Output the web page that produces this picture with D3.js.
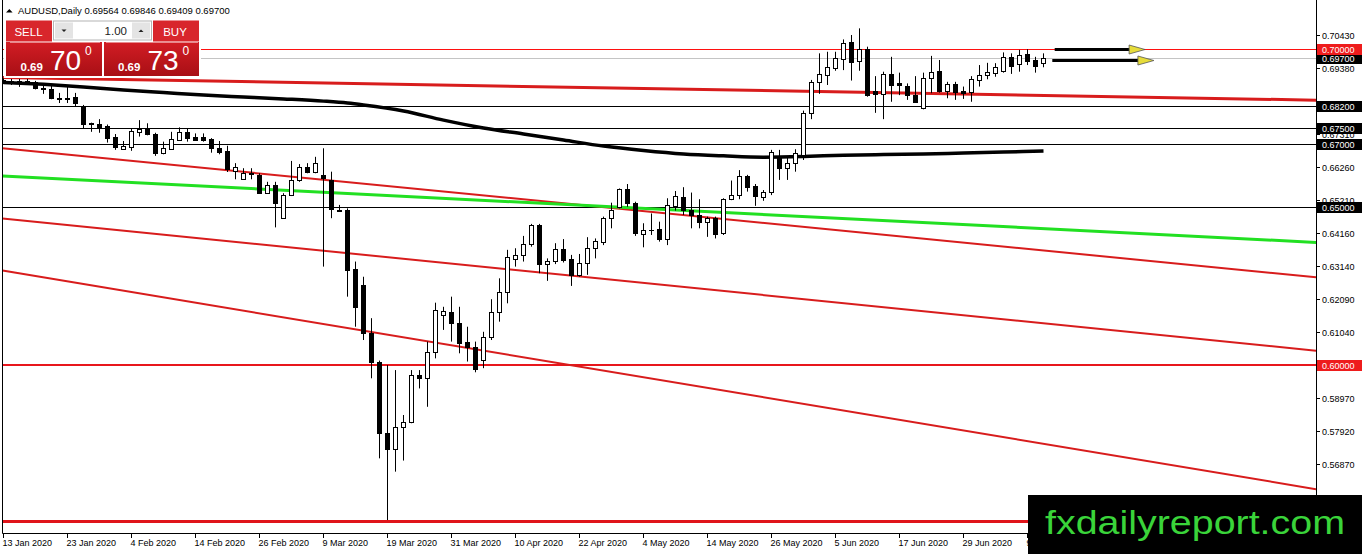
<!DOCTYPE html>
<html>
<head>
<meta charset="utf-8">
<script src="https://cdnjs.cloudflare.com/ajax/libs/d3/7.8.5/d3.min.js"></script>
<style>
  html, body { margin: 0; padding: 0; background: #fff; }
  svg { display: block; font-family: "Liberation Sans", Arial, sans-serif; }
</style>
</head>
<body>
<svg id="chart" width="1362" height="554"></svg>
<script>
// daily AUDUSD candles, 13 Jan 2020 .. 13 Jul 2020 (one per weekday)
var opens = [
  0.6897, 0.6897, 0.6895, 0.6899, 0.6895, 0.6872, 0.6871, 0.6842, 0.6844, 0.6846,
  0.6820, 0.6762, 0.6762, 0.6755, 0.6720, 0.6684, 0.6690, 0.6737, 0.6748, 0.6729,
  0.6671, 0.6684, 0.6711, 0.6736, 0.6720, 0.6720, 0.6714, 0.6686, 0.6676, 0.6614,
  0.6587, 0.6605, 0.6601, 0.6543, 0.6569, 0.6466, 0.6537, 0.6585, 0.6625, 0.6611,
  0.6601, 0.6585, 0.6490, 0.6490, 0.6302, 0.6253, 0.6102, 0.6011, 0.5784, 0.5733,
  0.5805, 0.5821, 0.5968, 0.5958, 0.6040, 0.6158, 0.6168, 0.6134, 0.6074, 0.6056,
  0.6016, 0.6088, 0.6167, 0.6230, 0.6336, 0.6348, 0.6382, 0.6442, 0.6318, 0.6329,
  0.6366, 0.6335, 0.6285, 0.6321, 0.6369, 0.6390, 0.6464, 0.6498, 0.6555, 0.6511,
  0.6414, 0.6428, 0.6429, 0.6398, 0.6502, 0.6532, 0.6490, 0.6474, 0.6453, 0.6464,
  0.6418, 0.6524, 0.6537, 0.6597, 0.6566, 0.6532, 0.6546, 0.6653, 0.6622, 0.6638,
  0.6664, 0.6795, 0.6893, 0.6917, 0.6940, 0.6966, 0.7020, 0.6962, 0.6998, 0.6866,
  0.6857, 0.6920, 0.6890, 0.6882, 0.6853, 0.6811, 0.6906, 0.6929, 0.6866, 0.6888,
  0.6866, 0.6864, 0.6901, 0.6917, 0.6922, 0.6930, 0.6973, 0.6950, 0.6983, 0.6964,
  0.6956
];
var highs = [
  0.6906, 0.6904, 0.6904, 0.6904, 0.6898, 0.6885, 0.6882, 0.6860, 0.6880, 0.6860,
  0.6822, 0.6766, 0.6777, 0.6760, 0.6730, 0.6708, 0.6748, 0.6774, 0.6764, 0.6734,
  0.6706, 0.6737, 0.6751, 0.6748, 0.6732, 0.6732, 0.6717, 0.6708, 0.6693, 0.6638,
  0.6622, 0.6622, 0.6606, 0.6579, 0.6579, 0.6543, 0.6645, 0.6635, 0.6638, 0.6658,
  0.6685, 0.6611, 0.6506, 0.6495, 0.6327, 0.6279, 0.6148, 0.6014, 0.6000, 0.5984,
  0.5842, 0.5984, 0.5984, 0.6074, 0.6197, 0.6184, 0.6216, 0.6184, 0.6121, 0.6074,
  0.6105, 0.6208, 0.6274, 0.6364, 0.6369, 0.6408, 0.6446, 0.6446, 0.6337, 0.6385,
  0.6398, 0.6348, 0.6351, 0.6404, 0.6400, 0.6469, 0.6513, 0.6558, 0.6572, 0.6516,
  0.6448, 0.6479, 0.6453, 0.6527, 0.6550, 0.6562, 0.6545, 0.6524, 0.6469, 0.6469,
  0.6527, 0.6583, 0.6616, 0.6601, 0.6572, 0.6553, 0.6680, 0.6680, 0.6658, 0.6682,
  0.6804, 0.6901, 0.6985, 0.6990, 0.6990, 0.7029, 0.7043, 0.7064, 0.7006, 0.6913,
  0.6927, 0.6974, 0.6924, 0.6890, 0.6913, 0.6924, 0.6977, 0.6964, 0.6895, 0.6895,
  0.6880, 0.6913, 0.6948, 0.6955, 0.6954, 0.6988, 0.6985, 0.6996, 0.6998, 0.6974,
  0.6985
];
var lows = [
  0.6888, 0.6885, 0.6879, 0.6885, 0.6871, 0.6857, 0.6840, 0.6828, 0.6828, 0.6816,
  0.6749, 0.6737, 0.6734, 0.6703, 0.6680, 0.6680, 0.6677, 0.6722, 0.6726, 0.6661,
  0.6666, 0.6680, 0.6709, 0.6706, 0.6709, 0.6706, 0.6671, 0.6666, 0.6610, 0.6587,
  0.6585, 0.6587, 0.6541, 0.6541, 0.6435, 0.6464, 0.6534, 0.6579, 0.6606, 0.6606,
  0.6311, 0.6464, 0.6485, 0.6216, 0.6121, 0.6079, 0.5958, 0.5705, 0.5510, 0.5663,
  0.5698, 0.5816, 0.5926, 0.5868, 0.6021, 0.6111, 0.6074, 0.6037, 0.6011, 0.5977,
  0.5990, 0.6079, 0.6137, 0.6195, 0.6311, 0.6327, 0.6374, 0.6290, 0.6266, 0.6319,
  0.6324, 0.6250, 0.6279, 0.6285, 0.6337, 0.6379, 0.6432, 0.6495, 0.6500, 0.6408,
  0.6372, 0.6411, 0.6390, 0.6379, 0.6488, 0.6474, 0.6432, 0.6432, 0.6405, 0.6400,
  0.6411, 0.6521, 0.6524, 0.6548, 0.6503, 0.6519, 0.6537, 0.6585, 0.6585, 0.6611,
  0.6648, 0.6777, 0.6857, 0.6885, 0.6930, 0.6932, 0.6899, 0.6930, 0.6848, 0.6797,
  0.6777, 0.6832, 0.6853, 0.6838, 0.6829, 0.6808, 0.6859, 0.6861, 0.6843, 0.6838,
  0.6841, 0.6832, 0.6880, 0.6903, 0.6911, 0.6924, 0.6920, 0.6927, 0.6948, 0.6924,
  0.6941
];
var closes = [
  0.6900, 0.6899, 0.6897, 0.6890, 0.6875, 0.6874, 0.6843, 0.6844, 0.6842, 0.6827,
  0.6761, 0.6765, 0.6748, 0.6718, 0.6690, 0.6692, 0.6740, 0.6746, 0.6729, 0.6671,
  0.6686, 0.6713, 0.6737, 0.6718, 0.6711, 0.6712, 0.6685, 0.6674, 0.6619, 0.6625,
  0.6606, 0.6607, 0.6543, 0.6569, 0.6511, 0.6537, 0.6585, 0.6625, 0.6611, 0.6638,
  0.6590, 0.6492, 0.6488, 0.6300, 0.6184, 0.6102, 0.6011, 0.5784, 0.5734, 0.5803,
  0.5821, 0.5968, 0.5958, 0.6040, 0.6174, 0.6171, 0.6132, 0.6071, 0.6058, 0.5986,
  0.6088, 0.6167, 0.6230, 0.6340, 0.6347, 0.6381, 0.6442, 0.6318, 0.6329, 0.6366,
  0.6332, 0.6285, 0.6321, 0.6369, 0.6392, 0.6464, 0.6490, 0.6555, 0.6511, 0.6418,
  0.6427, 0.6426, 0.6398, 0.6506, 0.6534, 0.6490, 0.6474, 0.6453, 0.6464, 0.6414,
  0.6524, 0.6537, 0.6597, 0.6564, 0.6535, 0.6546, 0.6673, 0.6622, 0.6638, 0.6669,
  0.6795, 0.6895, 0.6920, 0.6941, 0.6969, 0.7019, 0.6959, 0.6998, 0.6853, 0.6857,
  0.6920, 0.6885, 0.6884, 0.6853, 0.6832, 0.6906, 0.6927, 0.6866, 0.6888, 0.6864,
  0.6859, 0.6903, 0.6917, 0.6925, 0.6941, 0.6973, 0.6946, 0.6980, 0.6962, 0.6946,
  0.6970
];

var tickIndex = [0, 8, 16, 24, 32, 40, 48, 56, 64, 72, 80, 88, 96, 104, 112, 120, 128];
var tickLabels = [
  '13 Jan 2020', '23 Jan 2020', '4 Feb 2020', '14 Feb 2020', '26 Feb 2020', '9 Mar 2020',
  '19 Mar 2020', '31 Mar 2020', '10 Apr 2020', '22 Apr 2020', '4 May 2020', '14 May 2020',
  '26 May 2020', '5 Jun 2020', '17 Jun 2020', '29 Jun 2020', '9 Jul 2020'
];

var priceTicks = [
  0.7043, 0.6938, 0.6731, 0.6626, 0.6521, 0.6416, 0.6314,
  0.6209, 0.6104, 0.5897, 0.5792, 0.5687, 0.5582
];

// slow moving average, sampled every few bars
var maIndex = [0, 5, 10, 15, 20, 25, 30, 35, 40, 43, 45, 50, 55, 60, 65, 70, 75, 80, 85, 90, 95, 100, 105, 110, 115, 120, 125, 130];
var maValues = [
  0.6893, 0.6887, 0.6879, 0.6869, 0.6861, 0.6853, 0.6847, 0.6841, 0.6834, 0.6828,
  0.6822, 0.6803, 0.6774, 0.6749, 0.6730, 0.6711, 0.6692, 0.6678, 0.6667, 0.6661,
  0.6657, 0.6659, 0.6663, 0.6665, 0.6667, 0.6670, 0.6673, 0.6676
];

var blackLevels = [0.682, 0.675, 0.670, 0.650];
var redLevels = [0.700, 0.600];
var marchLow = 0.5506;
var bidPrice = 0.6970;

// trend lines as [bar, price, bar, price], extended to both chart edges
var upperTrend = [0, 0.6909, 130, 0.6852];
var channelTop = [0, 0.6685, 130, 0.6362];
var greenTrend = [0, 0.6597, 130, 0.6431];
var channelMid = [0, 0.6463, 130, 0.6132];
var channelLow = [0, 0.6298, 130, 0.5751];

var arrowStart = [131.4, 131.1];
var arrowEnd = [142.7, 143.8];
var arrowPrice = [0.6998, 0.6964];

var plotLeft = 2.5, plotRight = 1316, plotBottom = 533;

var svg = d3.select('#chart');
var x = d3.scaleLinear().domain([0, 130]).range([3.5, 1043.5]);
var y = d3.scaleLinear().domain([0.54691, 0.71536]).range([plotBottom, 0]);

svg.append('defs').append('clipPath').attr('id', 'plot')
  .append('rect').attr('x', plotLeft).attr('y', 0)
  .attr('width', plotRight - plotLeft).attr('height', plotBottom);

var plot = svg.append('g').attr('clip-path', 'url(#plot)');

function hLine(price, color, width) {
  let yy = Math.round(y(price)) + (width % 2 ? 0.5 : 0);
  plot.append('line')
    .attr('x1', plotLeft).attr('x2', plotRight)
    .attr('y1', yy).attr('y2', yy)
    .style('stroke', color).style('stroke-width', width);
}

function trendLine(t, color, width) {
  let slope = (t[3] - t[1]) / (t[2] - t[0]);
  let i0 = x.invert(plotLeft), i1 = x.invert(plotRight);
  plot.append('line')
    .attr('x1', x(i0)).attr('y1', y(t[1] + slope * (i0 - t[0])))
    .attr('x2', x(i1)).attr('y2', y(t[1] + slope * (i1 - t[0])))
    .style('stroke', color).style('stroke-width', width);
}

// horizontal levels
hLine(bidPrice, '#c4c4c4', 1);
blackLevels.forEach(function(p) { hLine(p, '#000', 1); });
hLine(redLevels[0], '#ff1010', 1);
hLine(redLevels[1], '#e8161c', 2);
hLine(marchLow, '#e0141a', 3);

// sloping lines
trendLine(channelLow, '#d81c1c', 2);
trendLine(channelMid, '#d81c1c', 2);
trendLine(channelTop, '#d81c1c', 2);
trendLine(greenTrend, '#22e022', 3);
trendLine(upperTrend, '#d81c1c', 3);

// moving average
var maLine = d3.line()
  .x(function(d, i) { return x(maIndex[i]); })
  .y(function(d) { return y(d); })
  .curve(d3.curveMonotoneX);
plot.append('path').attr('d', maLine(maValues))
  .style('fill', 'none').style('stroke', '#000').style('stroke-width', 3.5);

// candles
var candles = plot.append('g');
closes.forEach(function(c, i) {
  let o = opens[i];
  let cx = Math.floor(x(i)) + 0.5;
  candles.append('line')
    .attr('x1', cx).attr('x2', cx)
    .attr('y1', y(highs[i])).attr('y2', y(lows[i]))
    .style('stroke', '#000').style('stroke-width', 1);
  let top = Math.round(y(Math.max(o, c))), bot = Math.round(y(Math.min(o, c)));
  if (bot - top < 1) {
    candles.append('line')
      .attr('x1', cx - 2.5).attr('x2', cx + 2.5)
      .attr('y1', top + 0.5).attr('y2', top + 0.5)
      .style('stroke', '#000');
  } else {
    candles.append('rect')
      .attr('x', cx - 2).attr('width', 4)
      .attr('y', top + 0.5).attr('height', bot - top)
      .style('fill', c >= o ? '#fff' : '#000')
      .style('stroke', '#000').style('stroke-width', 1);
  }
});

// arrows
arrowPrice.forEach(function(p, k) {
  let yy = Math.round(y(p)) + 0.5;
  let tip = x(arrowEnd[k]);
  plot.append('line')
    .attr('x1', x(arrowStart[k])).attr('x2', tip - 14)
    .attr('y1', yy).attr('y2', yy)
    .style('stroke', '#000').style('stroke-width', 3);
  plot.append('path')
    .attr('d', 'M' + (tip - 16) + ',' + (yy - 4.5) + 'L' + tip + ',' + yy + 'L' + (tip - 16) + ',' + (yy + 4.5) + 'Z')
    .style('fill', '#e6dc3a').style('stroke', '#555').style('stroke-width', 0.8);
});

// frame
svg.append('path')
  .attr('d', 'M2.5,0V' + (plotBottom + 0.5) + 'H' + (plotRight + 0.5) + 'V0')
  .style('fill', 'none').style('stroke', '#000');

// time axis
var xAxis = svg.append('g').style('font-size', '9px');
tickIndex.forEach(function(idx, k) {
  let tx = Math.floor(x(idx)) + 0.5;
  xAxis.append('line').attr('x1', tx).attr('x2', tx)
    .attr('y1', plotBottom).attr('y2', plotBottom + 5).style('stroke', '#000');
  xAxis.append('text').attr('x', tx - 1).attr('y', 546).text(tickLabels[k]);
});

// price axis
var yAxis = svg.append('g').style('font-size', '9px');
priceTicks.forEach(function(p) {
  let ty = Math.round(y(p)) + 0.5;
  yAxis.append('line').attr('x1', plotRight).attr('x2', plotRight + 4)
    .attr('y1', ty).attr('y2', ty).style('stroke', '#000');
  yAxis.append('text').attr('x', 1322).attr('y', ty + 3.5).text(p.toFixed(5));
});

function priceBox(p, fill) {
  let ty = Math.round(y(p));
  yAxis.append('rect').attr('x', 1317).attr('y', ty - 5).attr('width', 45).attr('height', 11)
    .style('fill', fill);
  yAxis.append('text').attr('x', 1322).attr('y', ty + 4).style('fill', '#fff').text(p.toFixed(5));
}
blackLevels.forEach(function(p) { priceBox(p, '#000'); });
priceBox(redLevels[1], '#ee1c1c');
priceBox(bidPrice, '#000');
priceBox(redLevels[0], '#ee1c1c');

// symbol header
svg.append('path').attr('d', 'M6,12.5L9.3,9L12.6,12.5Z').style('fill', '#000');
svg.append('text').attr('x', 18).attr('y', 13.5).style('font-size', '9.5px')
  .text('AUDUSD,Daily  0.69564 0.69846 0.69409 0.69700');

// one-click trading panel
var grad = svg.select('defs').append('linearGradient').attr('id', 'priceRed')
  .attr('x1', 0).attr('y1', 0).attr('x2', 0).attr('y2', 1);
grad.append('stop').attr('offset', 0).attr('stop-color', '#d21d24');
grad.append('stop').attr('offset', 1).attr('stop-color', '#a80f15');

var panel = svg.append('g');
panel.append('rect').attr('x', 4).attr('y', 19).attr('width', 197).attr('height', 59).style('fill', '#fff');
panel.append('rect').attr('x', 6).attr('y', 20.5).attr('width', 46).attr('height', 21).style('fill', '#d8262c');
panel.append('rect').attr('x', 153).attr('y', 20.5).attr('width', 46).attr('height', 21).style('fill', '#d8262c');
panel.append('rect').attr('x', 6).attr('y', 42).attr('width', 96).attr('height', 34).style('fill', 'url(#priceRed)');
panel.append('rect').attr('x', 104).attr('y', 42).attr('width', 95).attr('height', 34).style('fill', 'url(#priceRed)');
panel.append('line').attr('x1', 10).attr('x2', 100).attr('y1', 42.5).attr('y2', 42.5).style('stroke', '#e88a8d');
panel.append('line').attr('x1', 106).attr('x2', 198).attr('y1', 42.5).attr('y2', 42.5).style('stroke', '#e88a8d');

// lot size box
panel.append('rect').attr('x', 53.5).attr('y', 21).attr('width', 98).attr('height', 19)
  .style('fill', '#fff').style('stroke', '#b4b4b4');
panel.append('rect').attr('x', 55).attr('y', 22.5).attr('width', 18).attr('height', 16).style('fill', '#e4e4e4');
panel.append('rect').attr('x', 132).attr('y', 22.5).attr('width', 18).attr('height', 16).style('fill', '#e4e4e4');
panel.append('path').attr('d', 'M61.5,29.5L66.5,29.5L64,32Z').style('fill', '#222');
panel.append('path').attr('d', 'M138.5,32L143.5,32L141,29.5Z').style('fill', '#222');
panel.append('text').attr('x', 127).attr('y', 34.5).attr('text-anchor', 'end')
  .style('font-size', '11.5px').style('fill', '#222').text('1.00');

panel.append('text').attr('x', 28.5).attr('y', 35.5).attr('text-anchor', 'middle')
  .style('font-size', '11.5px').style('fill', '#fff').text('SELL');
panel.append('text').attr('x', 175).attr('y', 35.5).attr('text-anchor', 'middle')
  .style('font-size', '11.5px').style('fill', '#fff').text('BUY');

function quote(x0, small, big, pip) {
  panel.append('text').attr('x', x0).attr('y', 70.5)
    .style('font-size', '11.5px').style('font-weight', 'bold').style('fill', '#fff').text(small);
  panel.append('text').attr('x', x0 + 29.5).attr('y', 70)
    .style('font-size', '28px').style('fill', '#fff').text(big);
  panel.append('text').attr('x', x0 + 64.5).attr('y', 55)
    .style('font-size', '12px').style('fill', '#fff').text(pip);
}
quote(20.5, '0.69', '70', '0');
quote(118, '0.69', '73', '0');

// site watermark
svg.append('rect').attr('x', 1028).attr('y', 495).attr('width', 334).attr('height', 59).style('fill', '#000');
svg.append('text').attr('x', 1045).attr('y', 534)
  .attr('textLength', 300).attr('lengthAdjust', 'spacingAndGlyphs')
  .style('font-size', '34px').style('fill', '#3ad43a')
  .text('fxdailyreport.com');
</script>
</body>
</html>
